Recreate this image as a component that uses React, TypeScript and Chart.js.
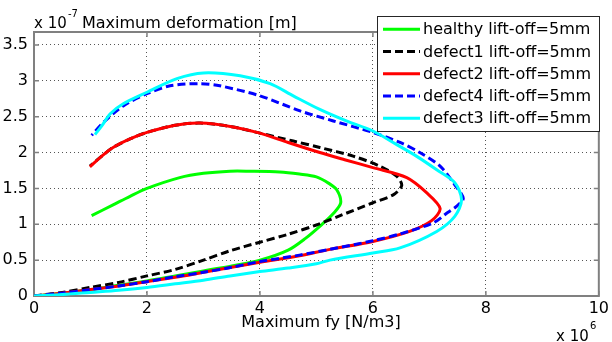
import React, { useEffect, useRef } from 'react';
import { Chart, registerables } from 'chart.js';

Chart.register(...registerables);

// Values: x in units of 1e6 N/m3, y in units of 1e-7 m
const healthyX = [0, 0.5, 1, 1.5, 2, 2.5, 3, 3.5, 4, 4.5, 4.8, 5.1, 5.3, 5.43, 5.36, 5.22, 5.0, 4.7, 4.35, 3.8, 3.47, 3.0, 2.58, 2.0, 1.7, 1.4, 1.02];
const healthyY = [0, 0.04, 0.09, 0.15, 0.21, 0.28, 0.35, 0.42, 0.5, 0.64, 0.8, 1.0, 1.15, 1.3, 1.48, 1.57, 1.66, 1.7, 1.73, 1.74, 1.74, 1.71, 1.65, 1.5, 1.39, 1.27, 1.12];

const defect1X = [0, 0.5, 1, 1.5, 2, 2.5, 3, 3.47, 4, 4.5, 5, 5.42, 6, 6.36, 6.51, 6.42, 6.12, 5.65, 5.06, 4.59, 4.0, 3.5, 2.94, 2.5, 2.0, 1.7, 1.4, 1.2, 0.99];
const defect1Y = [0, 0.05, 0.12, 0.19, 0.28, 0.37, 0.5, 0.63, 0.75, 0.86, 0.99, 1.12, 1.3, 1.41, 1.54, 1.67, 1.81, 1.95, 2.07, 2.16, 2.27, 2.36, 2.41, 2.38, 2.28, 2.19, 2.07, 1.95, 1.81];

const defect2X = [0, 0.5, 1, 1.5, 2, 2.5, 3, 3.5, 4, 4.7, 5.24, 6.0, 6.65, 7.04, 7.19, 6.95, 6.6, 6.0, 5.5, 5.06, 4.5, 4.0, 3.5, 2.94, 2.5, 2.0, 1.7, 1.4, 1.2, 0.99];
const defect2Y = [0, 0.04, 0.09, 0.14, 0.2, 0.26, 0.33, 0.4, 0.47, 0.56, 0.65, 0.76, 0.9, 1.05, 1.22, 1.44, 1.65, 1.79, 1.9, 2.0, 2.14, 2.27, 2.36, 2.41, 2.38, 2.28, 2.19, 2.07, 1.95, 1.8];

const defect4X = [0, 0.5, 1, 1.5, 2, 2.5, 3, 3.5, 4, 4.7, 5.24, 6.0, 6.5, 7.07, 7.3, 7.48, 7.6, 7.45, 7.19, 6.83, 6.48, 6.0, 5.3, 4.71, 4.0, 3.29, 2.94, 2.41, 2.0, 1.58, 1.23, 1.02];
const defect4Y = [0, 0.04, 0.09, 0.14, 0.2, 0.27, 0.33, 0.4, 0.48, 0.57, 0.65, 0.77, 0.87, 1.02, 1.15, 1.25, 1.36, 1.55, 1.81, 2.0, 2.14, 2.28, 2.44, 2.58, 2.79, 2.93, 2.96, 2.93, 2.82, 2.65, 2.42, 2.24];

const defect3X = [0, 0.5, 1, 1.5, 2, 2.5, 3, 3.47, 4, 4.5, 5.0, 5.24, 6.0, 6.48, 7.13, 7.45, 7.57, 7.45, 7.13, 6.77, 6.4, 6.0, 5.53, 5.06, 4.59, 4.18, 3.65, 3.0, 2.53, 2.0, 1.58, 1.35, 1.2, 1.08];
const defect3Y = [0, 0.02, 0.05, 0.08, 0.12, 0.17, 0.22, 0.28, 0.34, 0.39, 0.45, 0.5, 0.6, 0.67, 0.9, 1.11, 1.34, 1.58, 1.76, 1.95, 2.12, 2.3, 2.44, 2.6, 2.79, 2.96, 3.07, 3.11, 3.03, 2.84, 2.68, 2.54, 2.37, 2.25];

const seriesLabels = [
  'healthy lift-off=5mm',
  'defect1 lift-off=5mm',
  'defect2 lift-off=5mm',
  'defect4 lift-off=5mm',
  'defect3 lift-off=5mm',
];
const seriesColors = ['#00ff00', '#000000', '#ff0000', '#0000ff', '#00ffff'];
const seriesDash: number[][] = [[], [8, 4], [], [8, 4], []];

const xTicks = [0, 2, 4, 6, 8, 10];
const yTicks = [0, 0.5, 1, 1.5, 2, 2.5, 3, 3.5];

const FONT = '"DejaVu Sans", sans-serif';

const pts = (xs: number[], ys: number[]) => xs.map((x, i) => ({ x, y: ys[i] }));

const decor = {
  id: 'decor',
  beforeDatasetsDraw(chart: any) {
    const { ctx, chartArea: a, scales } = chart;
    const x = scales.x;
    const y = scales.y;
    ctx.save();
    ctx.strokeStyle = '#808080';
    ctx.lineWidth = 1.5;
    ctx.setLineDash([]);
    ctx.beginPath();
    xTicks.forEach((v) => {
      const px = x.getPixelForValue(v);
      ctx.moveTo(px, a.bottom);
      ctx.lineTo(px, a.bottom - 5);
      ctx.moveTo(px, a.top);
      ctx.lineTo(px, a.top + 5);
    });
    yTicks.forEach((v) => {
      const py = y.getPixelForValue(v);
      ctx.moveTo(a.left, py);
      ctx.lineTo(a.left + 5, py);
      ctx.moveTo(a.right, py);
      ctx.lineTo(a.right - 5, py);
    });
    ctx.stroke();
    ctx.lineWidth = 2;
    ctx.strokeRect(a.left, a.top, a.right - a.left, a.bottom - a.top);
    ctx.restore();
  },
  afterDraw(chart: any) {
    const { ctx } = chart;
    ctx.save();
    // Legend
    const lx = 377, ly = 16, lw = 222, lh = 115;
    ctx.fillStyle = '#ffffff';
    ctx.fillRect(lx, ly, lw, lh);
    ctx.strokeStyle = '#262626';
    ctx.lineWidth = 1;
    ctx.setLineDash([]);
    ctx.strokeRect(lx + 0.5, ly + 0.5, lw, lh);
    chart.data.datasets.forEach((ds: any, i: number) => {
      const ry = 29.3 + i * 22.25;
      ctx.strokeStyle = ds.borderColor;
      ctx.lineWidth = 3;
      ctx.setLineDash(ds.borderDash || []);
      ctx.beginPath();
      ctx.moveTo(383, ry);
      ctx.lineTo(420, ry);
      ctx.stroke();
      ctx.setLineDash([]);
      ctx.fillStyle = '#000';
      ctx.font = '16px ' + FONT;
      ctx.textBaseline = 'middle';
      ctx.textAlign = 'left';
      ctx.fillText(ds.label, 423, ry + 1);
    });
    // Title with exponent
    ctx.fillStyle = '#000';
    ctx.textBaseline = 'alphabetic';
    ctx.textAlign = 'left';
    ctx.font = '15px ' + FONT;
    ctx.fillText('x 10', 34, 27.5);
    ctx.font = '10px ' + FONT;
    ctx.fillText('-7', 68, 17);
    ctx.font = '16px ' + FONT;
    ctx.fillText('Maximum deformation [m]', 82, 27.5);
    // x axis label
    ctx.textAlign = 'center';
    ctx.font = '16px ' + FONT;
    ctx.fillText('Maximum fy [N/m3]', 321, 327);
    // x exponent
    ctx.textAlign = 'left';
    ctx.font = '15px ' + FONT;
    ctx.fillText('x 10', 556, 341);
    ctx.font = '10px ' + FONT;
    ctx.fillText('6', 590, 329);
    ctx.restore();
  },
};

export default function App() {
  const ref = useRef<HTMLCanvasElement | null>(null);
  useEffect(() => {
    if (!ref.current) return;
    const allX = [healthyX, defect1X, defect2X, defect4X, defect3X];
    const allY = [healthyY, defect1Y, defect2Y, defect4Y, defect3Y];
    const chart = new Chart(ref.current, {
      type: 'scatter',
      data: {
        datasets: seriesLabels.map((label, i) => ({
          label,
          data: pts(allX[i], allY[i]),
          borderColor: seriesColors[i],
          backgroundColor: seriesColors[i],
          borderWidth: 3,
          borderDash: seriesDash[i],
          showLine: true,
          pointRadius: 0,
          pointHoverRadius: 0,
          tension: 0.3,
          fill: false,
          order: seriesLabels.length - i,
        })),
      },
      options: {
        responsive: false,
        animation: false,
        events: [],
        layout: { padding: { left: 0, right: 12, top: 32, bottom: 0 } },
        plugins: {
          legend: { display: false },
          tooltip: { enabled: false },
          title: { display: false },
        },
        scales: {
          x: {
            type: 'linear',
            min: 0,
            max: 10,
            afterBuildTicks: (s: any) => {
              s.ticks = xTicks.map((v) => ({ value: v }));
            },
            afterFit: (s: any) => {
              s.height = 46;
            },
            ticks: {
              color: '#000',
              font: { family: FONT, size: 16 },
              padding: 3,
              maxRotation: 0,
              autoSkip: false,
              callback: (v: any) => String(v),
            },
            grid: { color: '#555', lineWidth: 1, drawTicks: false },
            border: { display: false, dash: [1, 3] },
          },
          y: {
            type: 'linear',
            min: 0,
            max: 3.68,
            afterBuildTicks: (s: any) => {
              s.ticks = yTicks.map((v) => ({ value: v }));
            },
            afterFit: (s: any) => {
              s.width = 34;
            },
            ticks: {
              color: '#000',
              font: { family: FONT, size: 16 },
              padding: 6,
              autoSkip: false,
              callback: (v: any) => String(v),
            },
            grid: { color: '#555', lineWidth: 1, drawTicks: false },
            border: { display: false, dash: [1, 3] },
          },
        },
      },
      plugins: [decor],
    } as any);
    return () => chart.destroy();
  }, []);
  return (
    <div style={{ position: 'absolute', left: 0, top: 0, width: 612, height: 342, background: '#fff' }}>
      <canvas ref={ref} width={612} height={342} style={{ display: 'block' }} />
    </div>
  );
}
